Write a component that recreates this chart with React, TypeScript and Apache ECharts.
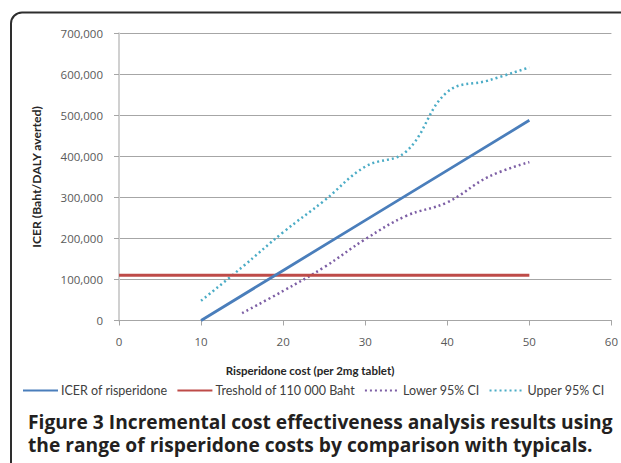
import React, { useEffect, useRef } from "react";
import * as echarts from "echarts";

const icerX = [10, 20, 30, 40, 50];
const icerY = [0, 122000, 244000, 366000, 488000];
const thresholdX = [0, 50];
const thresholdY = [110000, 110000];
const lowerX = [15, 20, 25, 30, 35, 40, 45, 50];
const lowerY = [18000, 72000, 130000, 198000, 255000, 288000, 350000, 386000];
const upperX = [10, 15, 20, 25, 30, 35, 40, 45, 50];
const upperY = [48000, 130000, 215000, 292000, 375000, 412000, 557000, 585000, 617000];
const seriesNames = ["ICER of risperidone", "Treshold of 110 000 Baht", "Lower 95% CI", "Upper 95% CI"];
const xTitle = "Risperidone cost (per 2mg tablet)";
const yTitle = "ICER (Baht/DALY averted)";
const captionLines = [
  "Figure 3 Incremental cost effectiveness analysis results using",
  "the range of risperidone costs by comparison with typicals.",
];

const pair = (xs: number[], ys: number[]) => xs.map((x, i) => [x, ys[i]]);

export default function App() {
  const ref = useRef<HTMLDivElement>(null);
  useEffect(() => {
    if (!ref.current) return;
    const chart = echarts.init(ref.current, undefined, { renderer: "svg" });
    const font = "Lato, 'Open Sans', sans-serif";
    const openSans = "'Open Sans', sans-serif";
    chart.setOption({
      animation: false,
      textStyle: { fontFamily: font },
      grid: { left: 119, top: 33.3, right: 6, bottom: 142.5 },
      xAxis: {
        type: "value",
        min: 0,
        max: 60,
        interval: 10,
        axisLine: { show: true, onZero: true, lineStyle: { color: "#a6a6a6", width: 1 } },
        axisTick: { show: true, length: 5, lineStyle: { color: "#a6a6a6" } },
        splitLine: { show: false },
        axisLabel: { color: "#595959", fontSize: 11.5, margin: 15, fontFamily: openSans },
      },
      yAxis: {
        type: "value",
        min: 0,
        max: 700000,
        interval: 100000,
        name: yTitle,
        nameLocation: "middle",
        nameRotate: 90,
        nameGap: 77,
        nameTextStyle: { fontWeight: "bold", fontSize: 12.2, color: "#262626", fontFamily: font },
        axisLine: { show: true, lineStyle: { color: "#d0d0d0", width: 2 } },
        axisTick: { show: true, length: 5, lineStyle: { color: "#a6a6a6" } },
        splitLine: { show: true, lineStyle: { color: "#a6a6a6", width: 1 } },
        axisLabel: {
          color: "#595959",
          fontSize: 11.5,
          margin: 16,
          fontFamily: openSans,
          formatter: (v: number) => (v === 0 ? "0" : v.toLocaleString("en-US")),
        },
      },
      legend: {
        left: 22,
        top: 384,
        width: 598,
        padding: 0,
        itemWidth: 35,
        itemHeight: 14,
        itemGap: 9,
        itemStyle: { opacity: 0 },
        textStyle: { color: "#404040", fontSize: 12.5, fontFamily: font, padding: [0, 0, 0, -2] },
        data: seriesNames,
      },
      series: [
        {
          name: seriesNames[0],
          type: "line",
          data: pair(icerX, icerY),
          symbol: "none",
          lineStyle: { color: "#4a7ebb", width: 2.8 },
          itemStyle: { color: "#4a7ebb" },
          z: 4,
        },
        {
          name: seriesNames[1],
          type: "line",
          data: pair(thresholdX, thresholdY),
          symbol: "none",
          lineStyle: { color: "#be4b48", width: 3 },
          itemStyle: { color: "#be4b48" },
          z: 3,
        },
        {
          name: seriesNames[2],
          type: "line",
          data: pair(lowerX, lowerY),
          symbol: "none",
          smooth: 0.4,
          lineStyle: { color: "#7d5fa5", width: 2.5, type: [2, 3] },
          itemStyle: { color: "#7d5fa5" },
          z: 2,
        },
        {
          name: seriesNames[3],
          type: "line",
          data: pair(upperX, upperY),
          symbol: "none",
          smooth: 0.4,
          lineStyle: { color: "#4bacc6", width: 2.5, type: [2, 3] },
          itemStyle: { color: "#4bacc6" },
          z: 2,
        },
      ],
      graphic: [
        {
          type: "rect",
          shape: { x: 11, y: 12.5, width: 700, height: 500, r: 11 },
          style: { fill: "none", stroke: "#2e2e2e", lineWidth: 2 },
          silent: true,
          z: -1,
        },
        {
          type: "text",
          x: 310,
          y: 370,
          style: {
            text: xTitle,
            fill: "#262626",
            font: `bold 11.5px ${font}`,
            align: "center",
            verticalAlign: "middle",
          },
        },
        {
          type: "text",
          x: 28,
          y: 409.5,
          style: {
            text: captionLines.join("\n"),
            fill: "#231f20",
            font: `bold 19.2px ${openSans}`,
            lineHeight: 23.5,
            align: "left",
            verticalAlign: "top",
          },
        },
      ],
    });
    return () => chart.dispose();
  }, []);
  return (
    <div
      ref={ref}
      style={{ position: "absolute", left: 0, top: 0, width: 621, height: 463, background: "#fff" }}
    />
  );
}
